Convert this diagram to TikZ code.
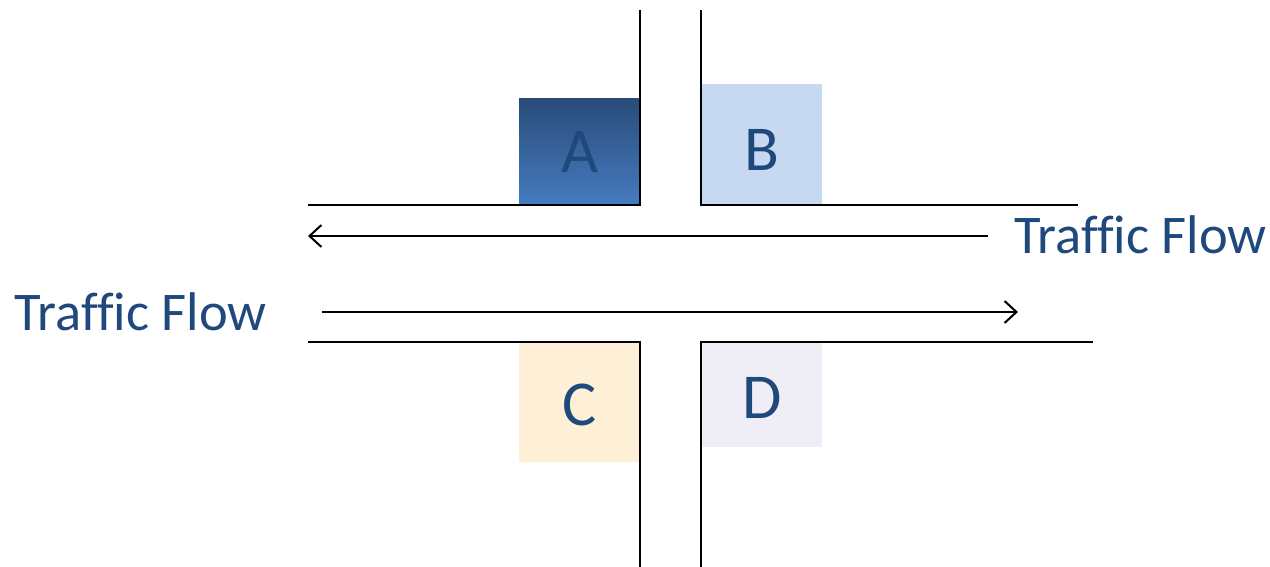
\documentclass[tikz,border=0pt]{standalone}
\usepackage{fontspec}
\setmainfont{Carlito}
\newfontfamily\flowfont[Ligatures=NoCommon]{Carlito}
\usetikzlibrary{arrows.meta}
\definecolor{txt}{HTML}{1F497D}
\definecolor{atop}{HTML}{2A4C79}
\definecolor{abot}{HTML}{447BC0}
\definecolor{bfill}{HTML}{C6D9F0}
\definecolor{cfill}{HTML}{FDF0D6}
\definecolor{dfill}{HTML}{EFEDF5}
\tikzset{
  road/.style={line width=1.7pt, black},
  flow/.style={line width=2pt, -{Straight Barb[length=12pt,width=22pt,line width=2pt]}},
  lotlabel/.style={text=txt, font=\fontsize{64}{64}\selectfont},
  flowlabel/.style={text=txt, font=\flowfont\fontsize{54.5}{54.5}\selectfont, inner sep=0pt},
}
\begin{document}
\begin{tikzpicture}[x=1pt,y=-1pt]
\useasboundingbox (0,0) rectangle (1270,567);
% lots
\shade[top color=atop,bottom color=abot] (519,99) rectangle (640,204);
\fill[bfill] (701,84) rectangle (822,204);
\fill[cfill] (519,341) rectangle (641,462);
\fill[dfill] (701,342) rectangle (822,447);
\node[lotlabel] (A) at (580,152) {A};
\node[lotlabel] (B) at (762,150) {B};
\node[lotlabel] (C) at (580,405) {C};
\node[lotlabel] (D) at (762,398) {D};
% roads
\coordinate (tl1) at (640,10);
\coordinate (tl2) at (640,205);
\coordinate (tl3) at (308,205);
\coordinate (tr1) at (701,10);
\coordinate (tr2) at (701,205);
\coordinate (tr3) at (1078,205);
\coordinate (bl1) at (640,567);
\coordinate (bl2) at (640,342);
\coordinate (bl3) at (308,342);
\coordinate (br1) at (701,567);
\coordinate (br2) at (701,342);
\coordinate (br3) at (1093,342);
\draw[road] (tl1) -- (tl2) -- (tl3);
\draw[road] (tr1) -- (tr2) -- (tr3);
\draw[road] (bl1) -- (bl2) -- (bl3);
\draw[road] (br1) -- (br2) -- (br3);
% flows
\coordinate (f1s) at (988,236);
\coordinate (f1e) at (308,236);
\coordinate (f2s) at (322,312);
\coordinate (f2e) at (1018,312);
\draw[flow] (f1s) -- (f1e);
\draw[flow] (f2s) -- (f2e);
\node[flowlabel, anchor=base west] (tf1) at (1014,254) {Traffic Flow};
\node[flowlabel, anchor=base west] (tf2) at (14,330) {Traffic Flow};
\end{tikzpicture}
\end{document}
